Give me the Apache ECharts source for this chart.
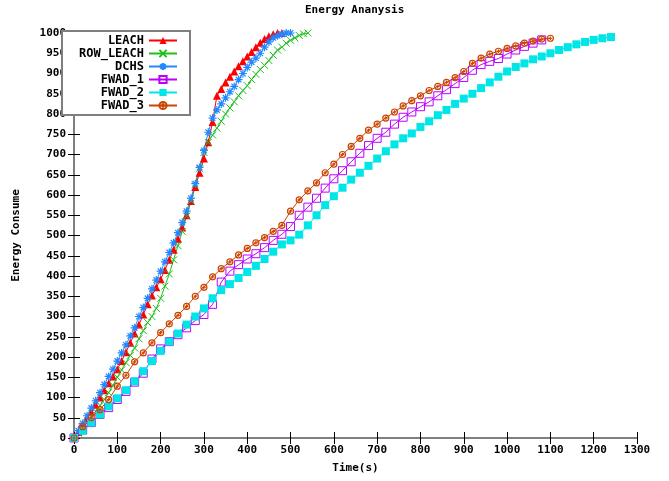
<!DOCTYPE html>
<html><head><meta charset="utf-8">
<script src="https://cdn.jsdelivr.net/npm/echarts@6/dist/echarts.min.js"></script>
<style>html,body{margin:0;padding:0;background:#fff}#c{width:669px;height:481px}</style>
</head><body><div id="c"></div>
<script>
const seriesNames = ['LEACH', 'ROW_LEACH', 'DCHS', 'FWAD_1', 'FWAD_2', 'FWAD_3'];
const xTicks = [0,100,200,300,400,500,600,700,800,900,1000,1100,1200,1300];
const yTicks = [0,50,100,150,200,250,300,350,400,450,500,550,600,650,700,750,800,850,900,950,1000];

const leachT = [0,10,20,30,40,50,60,70,80,90,100,110,120,130,140,150,160,170,180,190,200,210,220,230,240,250,260,270,280,290,300,310,320,330,340,350,360,370,380,390,400,410,420,430,440,450,460,470,480];
const leachE = [0,15,32,48,65,82,100,118,135,152,170,190,212,235,258,280,305,330,352,372,392,415,440,465,492,520,550,585,620,655,690,730,780,845,862,878,892,905,918,930,942,953,965,976,985,992,997,1000,1000];

const rowT = [0,10,20,30,40,50,60,70,80,90,100,110,120,130,140,150,160,170,180,190,200,210,220,230,240,250,260,270,280,290,300,310,320,330,340,350,360,370,380,390,400,410,420,430,440,450,460,470,480,490,500,510,520,530,540];
const rowE = [0,12,25,38,52,66,80,95,112,130,150,168,186,204,222,245,265,285,300,320,345,375,405,440,475,510,548,585,625,665,705,730,748,765,782,800,815,830,845,858,870,885,898,910,920,932,945,958,965,975,982,988,994,998,1000];

const dchsT = [0,10,20,30,40,50,60,70,80,90,100,110,120,130,140,150,160,170,180,190,200,210,220,230,240,250,260,270,280,290,300,310,320,330,340,350,360,370,380,390,400,410,420,430,440,450,460,470,480,490,500];
const dchsE = [0,18,36,55,74,92,112,132,152,170,190,210,230,252,272,300,322,345,368,390,412,435,458,482,507,532,560,592,628,668,710,755,790,810,825,840,855,868,885,900,915,928,938,950,965,978,988,993,997,1000,1000];

const fwad1T = [0,20,40,60,80,100,120,140,160,180,200,220,240,260,280,300,320,340,360,380,400,420,440,460,480,500,520,540,560,580,600,620,640,660,680,700,720,740,760,780,800,820,840,860,880,900,920,940,960,980,1000,1020,1040,1060,1080];
const fwad1E = [0,20,38,58,75,95,115,138,160,195,220,238,255,272,290,305,330,385,412,428,442,455,470,488,503,522,550,570,592,617,640,660,682,703,722,740,755,775,792,805,818,830,845,860,875,890,908,922,930,937,948,958,967,975,983];

const fwad2T = [0,20,40,60,80,100,120,140,160,180,200,220,240,260,280,300,320,340,360,380,400,420,440,460,480,500,520,540,560,580,600,620,640,660,680,700,720,740,760,780,800,820,840,860,880,900,920,940,960,980,1000,1020,1040,1060,1080,1100,1120,1140,1160,1180,1200,1220,1240];
const fwad2E = [0,18,38,58,78,98,118,140,165,190,215,238,258,280,300,320,345,365,380,395,410,425,442,460,478,488,502,525,550,575,597,618,638,655,672,690,708,725,740,752,768,782,797,810,825,838,850,864,878,892,905,916,925,935,942,950,958,965,972,978,983,987,990];

const fwad3T = [0,20,40,60,80,100,120,140,160,180,200,220,240,260,280,300,320,340,360,380,400,420,440,460,480,500,520,540,560,580,600,620,640,660,680,700,720,740,760,780,800,820,840,860,880,900,920,940,960,980,1000,1020,1040,1060,1080,1100];
const fwad3E = [0,28,50,70,95,128,155,188,210,235,260,282,303,325,350,372,398,418,435,452,468,482,495,510,525,560,588,610,630,655,676,700,720,740,760,775,790,805,820,833,845,858,868,878,890,905,925,938,948,955,962,968,975,980,985,987];

const pairs = (t, e) => t.map((x, i) => [x, e[i]]);
const FONT = '"DejaVu Sans Mono", monospace';
const X_SYM = 'path://M0,0L10,10M10,0L0,10';
const STAR_SYM = 'path://M5,0L5,10M0,5L10,5M1.5,1.5L8.5,8.5M8.5,1.5L1.5,8.5';
const RING_SYM = 'path://M10,5A5,5 0 1 1 0,5A5,5 0 1 1 10,5ZM5,2L5,8M2,5L8,5';

function mk(name, data, color, symbol, size, hollow, bw) {
  return {
    name, type: 'line', data, symbol, symbolSize: size, showSymbol: true, showAllSymbol: true,
    animation: false, z: 3,
    lineStyle: { color, width: 1, type: 'solid' },
    itemStyle: hollow ? { color: 'rgba(255,255,255,0)', borderColor: color, borderWidth: bw || 1 } : { color, borderWidth: 0 },
    emphasis: { disabled: true }
  };
}

const chart = echarts.init(document.getElementById('c'), null, { renderer: 'canvas' });
const axisCommon = {
  type: 'value',
  axisLine: { show: true, lineStyle: { color: '#7f7f7f', width: 2 } },
  axisTick: { show: true, inside: true, length: 6, lineStyle: { color: '#000', width: 1 } },
  splitLine: { show: false }
};
const lblFmt = v => String(v);
chart.setOption({
  animation: false,
  backgroundColor: '#fff',
  title: {
    text: 'Energy Ananysis', left: 300, top: 0,
    textStyle: { fontFamily: FONT, fontWeight: 'bold', fontSize: 11, color: '#000' }
  },
  grid: { left: 74, right: 32, top: 33, bottom: 43 },
  legend: {
    orient: 'vertical', left: 62, top: 31, align: 'right',
    itemWidth: 28, itemHeight: 9, itemGap: 0,
    padding: [3, 12, 3, 2],
    borderColor: '#7f7f7f', borderWidth: 2, backgroundColor: '#fff',
    textStyle: { fontFamily: FONT, fontWeight: 'bold', fontSize: 12, lineHeight: 13, color: '#000', width: 80, align: 'right' },
    data: seriesNames
  },
  xAxis: [
    Object.assign({}, axisCommon, {
      min: xTicks[0], max: xTicks[xTicks.length - 1], interval: 100, position: 'bottom',
      name: 'Time(s)', nameLocation: 'middle', nameGap: 25,
      nameTextStyle: { fontFamily: FONT, fontWeight: 'bold', fontSize: 11, color: '#000' },
      axisLabel: { fontFamily: FONT, fontWeight: 'bold', fontSize: 11, color: '#000', margin: 7, formatter: lblFmt }
    }),
    Object.assign({}, axisCommon, {
      min: xTicks[0], max: xTicks[xTicks.length - 1], interval: 100, position: 'top',
      axisLabel: { show: false }
    })
  ],
  yAxis: [
    Object.assign({}, axisCommon, {
      min: yTicks[0], max: yTicks[yTicks.length - 1], interval: 50, position: 'left',
      name: 'Energy Consume', nameLocation: 'middle', nameGap: 52, nameRotate: 90,
      nameTextStyle: { fontFamily: FONT, fontWeight: 'bold', fontSize: 11, color: '#000' },
      axisLabel: { fontFamily: FONT, fontWeight: 'bold', fontSize: 11, color: '#000', margin: 8, formatter: lblFmt }
    }),
    Object.assign({}, axisCommon, {
      min: yTicks[0], max: yTicks[yTicks.length - 1], interval: 50, position: 'right',
      axisLabel: { show: false }
    })
  ],
  series: [
    mk('LEACH', pairs(leachT, leachE), '#ff0000', 'triangle', 8),
    mk('ROW_LEACH', pairs(rowT, rowE), '#1fbf1f', X_SYM, 7, true, 1),
    mk('DCHS', pairs(dchsT, dchsE), '#2288ff', STAR_SYM, 8, true, 1.2),
    mk('FWAD_1', pairs(fwad1T, fwad1E), '#bb00ff', 'rect', 8, true, 1),
    mk('FWAD_2', pairs(fwad2T, fwad2E), '#00e6e6', 'rect', 8),
    mk('FWAD_3', pairs(fwad3T, fwad3E), '#cc4400', RING_SYM, 6, true, 1.2)
  ]
});
</script></body></html>
